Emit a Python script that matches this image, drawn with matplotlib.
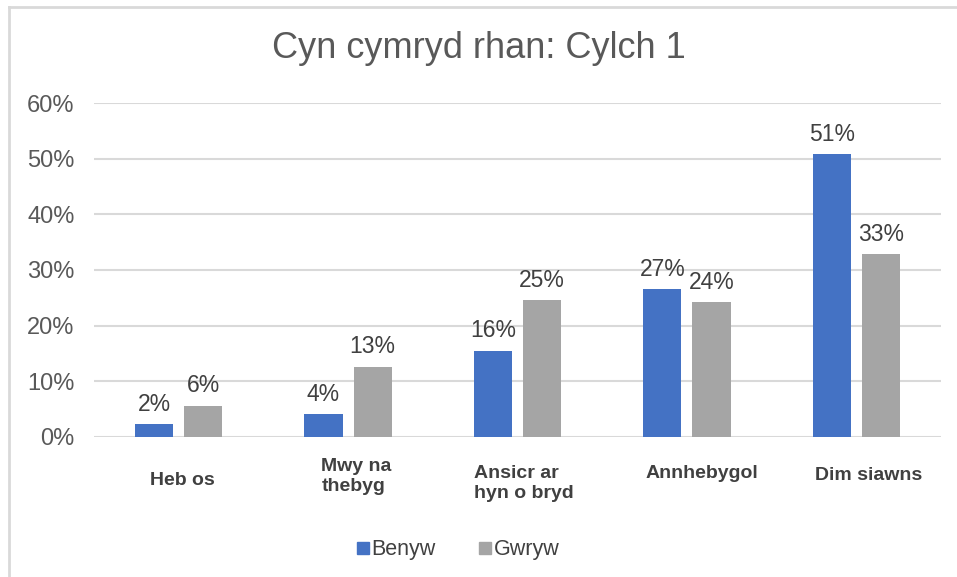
import numpy as np
import matplotlib
matplotlib.use("Agg")
import matplotlib.pyplot as plt
from matplotlib.lines import Line2D
from matplotlib.ticker import PercentFormatter

# --- data ---
categories = ["Heb os", "Mwy na\nthebyg", "Ansicr ar\nhyn o bryd", "Annhebygol", "Dim siawns"]
benyw = [2.2, 4.0, 15.5, 26.6, 50.8]
gwryw = [5.6, 12.6, 24.6, 24.2, 32.8]
series_names = ["Benyw", "Gwryw"]
yticks = [0, 10, 20, 30, 40, 50, 60]

BLUE = "#4472C4"
GREY = "#A5A5A5"
GRID = "#D9D9D9"
TEXT = "#595959"
LABEL = "#404040"

plt.rcParams["font.family"] = ["Liberation Sans", "DejaVu Sans"]

fig = plt.figure(figsize=(9.57, 5.77), dpi=100)
W, H = 957, 577
ax = fig.add_axes([94 / W, 1 - 436.7 / H, (941 - 94) / W, (436.7 - 103.3) / H])

x = np.arange(len(categories))
bw = 0.225
off = 0.145
b1 = ax.bar(x - off, benyw, bw, color=BLUE, zorder=3)
b2 = ax.bar(x + off, gwryw, bw, color=GREY, zorder=3)

for bars, vals in ((b1, benyw), (b2, gwryw)):
    for rect, v in zip(bars, vals):
        ax.annotate(f"{int(v + 0.5)}%", (rect.get_x() + rect.get_width() / 2, v),
                    xytext=(0, 6), textcoords="offset points",
                    ha="center", va="bottom", fontsize=16.5, color=LABEL)

ax.set_xlim(-0.5, len(categories) - 0.5)
ax.set_ylim(0, 60)
ax.set_yticks(yticks)
ax.yaxis.set_major_formatter(PercentFormatter(decimals=0))
ax.tick_params(axis="y", length=0, pad=14, labelsize=17, labelcolor=TEXT)
ax.set_xticks([])
ax.grid(axis="y", color=GRID, linewidth=1.5, zorder=0)
for s in ax.spines.values():
    s.set_visible(False)

# category labels, left-aligned blocks a little right of centre
label_tops = [472, 458, 465, 465, 467]
label_shift = [0.02, 0.05, 0.04, 0.09, 0.07]
for i, (cat, top) in enumerate(zip(categories, label_tops)):
    xf = (94 + (i + 0.5 + label_shift[i]) * (941 - 94) / len(categories)) / W
    fig.text(xf, 1 - top / H, cat, ha="center", va="top", multialignment="left",
             fontsize=14, fontweight="bold", color=LABEL, linespacing=1.2)

fig.text(0.5, 1 - 48 / H, "Cyn cymryd rhan: Cylch 1", ha="center", va="center",
         fontsize=26, color=TEXT)

handles = [Line2D([], [], marker="s", linestyle="none", markersize=8, color=c)
           for c in (BLUE, GREY)]
fig.legend(handles, series_names, loc="center", bbox_to_anchor=(457 / W, 1 - 550 / H),
           ncol=2, frameon=False, fontsize=15.5, handletextpad=0.0, columnspacing=1.9,
           labelcolor=LABEL, handlelength=0.8)

# outer border (top and left only visible in the reference)
fig.add_artist(Line2D([9 / W, 1], [1 - 7 / H, 1 - 7 / H], color=GRID, linewidth=2,
                      transform=fig.transFigure))
fig.add_artist(Line2D([9 / W, 9 / W], [0, 1 - 7 / H], color=GRID, linewidth=2,
                      transform=fig.transFigure))

fig.savefig("out.png", dpi=100)
